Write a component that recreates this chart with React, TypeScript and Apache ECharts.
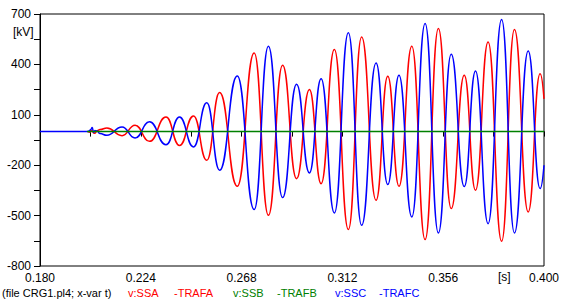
import React, { useEffect, useRef } from "react";
import * as echarts from "echarts";

// Time stamps [s] of the read-off points (noise, then successive extrema)
const times = [
  0.201, 0.2018, 0.2023, 0.2028, 0.2034, 0.204, 0.2049, 0.2062,
  0.2092, 0.2158, 0.2215, 0.2278, 0.235, 0.2409, 0.247, 0.2528, 0.2584, 0.2661,
  0.2735, 0.2797, 0.2859, 0.292, 0.2976, 0.3027, 0.3085, 0.3146, 0.3204, 0.3267,
  0.3318, 0.3367, 0.3423, 0.3481, 0.3539, 0.3595, 0.3652, 0.3701, 0.3756, 0.3815,
  0.3871, 0.3931, 0.3983, 0.4,
];
// v:SSA - TRAFA [kV]
const ssaValues = [
  0, -4, 6, 3, -8, -10, 5, 12,
  22, -24, 38, -58, 87, -83, 93, -171, 232, -325,
  468, -498, 395, -280, 250, -310, 488, -583, 563, -409,
  329, -325, 508, -643, 613, -458, 335, -349, 534, -653,
  607, -478, 345, 195,
];
// v:SSC - TRAFC [kV]
const sscValues = [
  0, 8, 14, 25, -6, 6, 3, -12,
  -22, 28, -38, 58, -78, 87, -91, 171, -230, 331,
  -464, 508, -393, 282, -246, 315, -484, 589, -558, 409,
  -315, 335, -508, 643, -603, 460, -327, 361, -548, 667,
  -603, 480, -339, -200,
];
// quiet pre-event part of v:SSC (flat)
const sscLeadTimes = [0.18, 0.201];
const sscLeadValues = [0, 0];
// v:SSB - TRAFB [kV]
const ssbTimes = [0.2005, 0.4];
const ssbValues = [0, 0];

const xTickValues = [0.18, 0.202, 0.224, 0.246, 0.268, 0.29, 0.312, 0.334, 0.356, 0.378, 0.4];
const xLabelValues = [0.18, 0.224, 0.268, 0.312, 0.356, 0.4];
const yTickValues = [-800, -650, -500, -350, -200, -50, 100, 250, 400, 550, 700];
const yLabelValues = [-800, -500, -200, 100, 400, 700];

const FONT = "'Liberation Sans', Arial, sans-serif";

export default function App() {
  const ref = useRef<HTMLDivElement>(null);
  useEffect(() => {
    if (!ref.current) return;
    const chart = echarts.init(ref.current, undefined, { renderer: "svg" });
    const pair = (ts: number[], vs: number[]) => ts.map((t, i) => [t, vs[i]]);
    const lineSeries = (name: string, data: number[][], color: string) => ({
      name,
      type: "line",
      data,
      showSymbol: false,
      smooth: 0.5,
      smoothMonotone: "x",
      lineStyle: { color, width: 1.5 },
      itemStyle: { color },
      emphasis: { disabled: true },
    });
    const sscData = pair(sscLeadTimes, sscLeadValues).concat(pair(times, sscValues).slice(1));
    chart.setOption({
      animation: false,
      backgroundColor: "#ffffff",
      grid: {
        left: 40, right: 23, top: 14, bottom: 36,
        show: true, borderColor: "#000", borderWidth: 1, backgroundColor: "transparent",
      },
      xAxis: {
        type: "value",
        min: 0.18,
        max: 0.4,
        axisLine: { show: true, lineStyle: { color: "#000", width: 1 } },
        axisTick: { show: true, customValues: xTickValues, length: 5, lineStyle: { color: "#000" } },
        axisLabel: {
          customValues: xLabelValues,
          formatter: (v: number) => v.toFixed(3),
          color: "#000",
          fontFamily: FONT,
          fontSize: 12,
          margin: 6,
        },
        splitLine: { show: false },
      },
      yAxis: {
        type: "value",
        min: -800,
        max: 700,
        axisLine: { show: true, lineStyle: { color: "#000", width: 1 } },
        axisTick: { show: true, customValues: yTickValues, length: 6, lineStyle: { color: "#000" } },
        axisLabel: {
          customValues: yLabelValues,
          formatter: (v: number) => String(v),
          color: "#000",
          fontFamily: FONT,
          fontSize: 12,
          margin: 9,
        },
        splitLine: { show: false },
      },
      series: [
        lineSeries("v:SSA-TRAFA", pair(times, ssaValues), "#ff0000"),
        lineSeries("v:SSC-TRAFC", sscData, "#0000ff"),
        lineSeries("v:SSB-TRAFB", pair(ssbTimes, ssbValues), "#008000"),
      ],
      graphic: [
        { type: "text", left: 13, top: 26, style: { text: "[kV]", fill: "#000", font: `12px ${FONT}` } },
        { type: "text", left: 498, top: 271, style: { text: "[s]", fill: "#000", font: `12px ${FONT}` } },
        { type: "text", left: 2, top: 287, style: { text: "(file CRG1.pl4; x-var t)", fill: "#000", font: `11px ${FONT}` } },
        { type: "text", left: 128, top: 287, style: { text: "v:SSA", fill: "#ff0000", font: `11px ${FONT}` } },
        { type: "text", left: 174, top: 287, style: { text: "-TRAFA", fill: "#ff0000", font: `11px ${FONT}` } },
        { type: "text", left: 233, top: 287, style: { text: "v:SSB", fill: "#008000", font: `11px ${FONT}` } },
        { type: "text", left: 277, top: 287, style: { text: "-TRAFB", fill: "#008000", font: `11px ${FONT}` } },
        { type: "text", left: 335, top: 287, style: { text: "v:SSC", fill: "#0000ff", font: `11px ${FONT}` } },
        { type: "text", left: 379, top: 287, style: { text: "-TRAFC", fill: "#0000ff", font: `11px ${FONT}` } },
      ],
    });
    return () => chart.dispose();
  }, []);
  return (
    <div
      ref={ref}
      style={{ position: "fixed", left: 0, top: 0, width: 567, height: 302, background: "#fff" }}
    />
  );
}
